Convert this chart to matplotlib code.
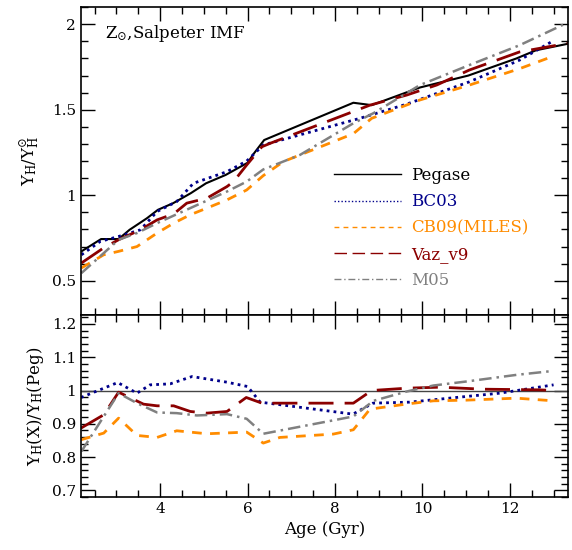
import matplotlib
matplotlib.use('Agg')
from matplotlib import pyplot as plt
from matplotlib.lines import Line2D
from matplotlib.ticker import MultipleLocator, FuncFormatter

# upper panel: Upsilon_H / Upsilon_H(sun)
peg_age = [2.2, 2.65, 3.05, 3.3, 3.7, 3.95, 4.3, 4.7, 5.05, 5.5, 6.0, 6.15, 6.38,
           8.42, 8.84, 9.94, 11.05, 12.15, 12.6, 13.35]
peg_val = [0.672, 0.744, 0.744, 0.798, 0.866, 0.915, 0.954, 1.012, 1.07, 1.119, 1.19,
           1.246, 1.323, 1.541, 1.527, 1.63, 1.70, 1.80, 1.848, 1.887]

bc_age = [2.2, 2.63, 3.05, 3.55, 3.93, 4.38, 4.76, 5.53, 5.98, 6.36, 8.57, 9.64,
          11.07, 12.22, 12.95]
bc_val = [0.652, 0.73, 0.759, 0.798, 0.905, 0.963, 1.07, 1.138, 1.2, 1.294, 1.45,
          1.533, 1.663, 1.79, 1.897]

cb_age = [2.2, 2.71, 3.05, 3.47, 3.93, 4.31, 4.69, 5.07, 5.53, 5.98, 6.36, 6.82,
          8.42, 8.84, 9.94, 11.07, 12.22, 12.99]
cb_val = [0.575, 0.652, 0.672, 0.70, 0.779, 0.837, 0.886, 0.925, 0.973, 1.031,
          1.115, 1.197, 1.36, 1.45, 1.557, 1.644, 1.74, 1.813]

vaz_age = [2.2, 2.7, 3.05, 3.55, 3.93, 4.31, 4.61, 5.07, 5.53, 5.68, 5.98, 6.33,
           6.52, 8.8, 9.64, 10.33, 11.07, 12.22, 13.35]
vaz_val = [0.604, 0.691, 0.74, 0.798, 0.856, 0.891, 0.954, 0.983, 1.051, 1.08, 1.177,
           1.284, 1.304, 1.527, 1.586, 1.645, 1.732, 1.838, 1.89]

m05_age = [2.2, 2.71, 3.05, 3.47, 3.93, 4.69, 5.53, 5.98, 6.36, 7.2, 8.42, 8.88,
           9.94, 11.07, 12.22, 13.35]
m05_val = [0.545, 0.662, 0.74, 0.779, 0.837, 0.925, 1.022, 1.08, 1.151, 1.236, 1.421,
           1.48, 1.644, 1.761, 1.877, 2.013]

# lower panel: ratio to Pegase
bc_r_age = [2.19, 3.03, 3.47, 3.77, 4.23, 4.73, 5.53, 6.0, 6.29, 8.41, 8.87, 9.7,
            11.0, 11.77, 13.0]
bc_r_val = [0.979, 1.024, 0.992, 1.017, 1.02, 1.042, 1.025, 1.012, 0.965, 0.929,
            0.962, 0.965, 0.982, 0.992, 1.017]

cb_r_age = [2.19, 2.71, 3.05, 3.47, 3.93, 4.38, 5.07, 5.98, 6.36, 6.74, 7.96, 8.42,
            8.8, 9.62, 10.25, 11.0, 12.15, 13.0]
cb_r_val = [0.852, 0.872, 0.917, 0.865, 0.859, 0.879, 0.87, 0.875, 0.842, 0.859,
            0.869, 0.882, 0.944, 0.959, 0.969, 0.971, 0.977, 0.969]

vaz_r_age = [2.19, 2.71, 3.05, 3.62, 3.93, 4.31, 4.69, 5.07, 5.53, 5.97, 6.33, 8.42,
             8.84, 9.64, 10.4, 11.39, 12.67, 13.0]
vaz_r_val = [0.887, 0.927, 0.995, 0.959, 0.954, 0.954, 0.937, 0.932, 0.937, 0.979,
             0.962, 0.962, 1.0, 1.007, 1.01, 1.004, 1.002, 1.0]

m05_r_age = [2.2, 3.05, 3.47, 3.93, 4.38, 4.84, 5.53, 5.98, 6.36, 8.42, 8.88, 9.64,
             10.25, 11.0, 12.15, 13.0]
m05_r_val = [0.817, 0.992, 0.962, 0.934, 0.932, 0.925, 0.929, 0.915, 0.87, 0.922,
             0.969, 0.997, 1.015, 1.027, 1.047, 1.059]

labels = ['Pegase', 'BC03', 'CB09(MILES)', 'Vaz_v9', 'M05']
colors = ['black', '#00008B', '#FF8C00', '#8B0000', '#808080']
styles = ['-', (0, (1, 1.5)), (0, (3.5, 3)), (0, (9, 4)), (0, (5, 2, 1, 2))]


def style_axis(ax):
    ax.tick_params(which='both', direction='in', top=True, right=True, width=1)
    ax.tick_params(which='major', length=10, labelsize=11)
    ax.tick_params(which='minor', length=5)
    for s in ax.spines.values():
        s.set_linewidth(1.2)


def main():
    plt.rcParams['font.family'] = ['DejaVu Serif']
    plt.rcParams['mathtext.fontset'] = 'dejavuserif'

    fig = plt.figure(figsize=(5.72, 5.5), dpi=100)
    ax1 = fig.add_axes([0.1416, 0.4273, 0.8514, 0.5597])
    ax2 = fig.add_axes([0.1416, 0.0964, 0.8514, 0.3309], sharex=ax1)

    top = [(peg_age, peg_val), (bc_age, bc_val), (cb_age, cb_val),
           (vaz_age, vaz_val), (m05_age, m05_val)]
    widths = [1.5, 2, 2, 2, 1.8]
    for (a, v), c, ls, w in zip(top, colors, styles, widths):
        ax1.plot(a, v, color=c, linestyle=ls, linewidth=w)

    ax1.set_xlim(2.19, 13.33)
    ax1.set_ylim(0.3, 2.1)
    ax1.yaxis.set_major_locator(MultipleLocator(0.5))
    ax1.yaxis.set_minor_locator(MultipleLocator(0.1))
    ax1.xaxis.set_major_locator(MultipleLocator(2))
    ax1.xaxis.set_minor_locator(MultipleLocator(0.5))
    ax1.yaxis.set_major_formatter(FuncFormatter(lambda v, p: '%g' % v))
    ax1.tick_params(labelbottom=False)
    style_axis(ax1)
    ax1.set_ylabel(r'$\Upsilon_\mathrm{H}/\Upsilon_\mathrm{H}^{\odot}$', fontsize=12,
                   labelpad=8)
    ax1.text(0.05, 0.9, r'Z$_{\odot}$,Salpeter IMF', transform=ax1.transAxes,
             fontsize=12)

    handles = [Line2D([], [], color=c, linestyle=ls, linewidth=1)
               for c, ls in zip(colors, styles)]
    leg = ax1.legend(handles, labels, loc='upper left', bbox_to_anchor=(0.52, 0.48),
                     frameon=False, fontsize=12, handlelength=4.0,
                     handletextpad=0.6, labelspacing=0.55, borderpad=0,
                     borderaxespad=0)
    for t, c in zip(leg.get_texts(), colors):
        t.set_color(c)

    ax2.axhline(1.0, color='#444444', linewidth=1)
    bottom = [(bc_r_age, bc_r_val), (cb_r_age, cb_r_val),
              (vaz_r_age, vaz_r_val), (m05_r_age, m05_r_val)]
    for (a, v), c, ls, w in zip(bottom, colors[1:], styles[1:], widths[1:]):
        ax2.plot(a, v, color=c, linestyle=ls, linewidth=w)

    ax2.set_ylim(0.68, 1.227)
    ax2.yaxis.set_major_locator(MultipleLocator(0.1))
    ax2.yaxis.set_minor_locator(MultipleLocator(0.02))
    ax2.yaxis.set_major_formatter(FuncFormatter(lambda v, p: '%g' % round(v, 2)))
    style_axis(ax2)
    ax2.set_ylabel(r'$\Upsilon_\mathrm{H}$(X)/$\Upsilon_\mathrm{H}$(Peg)', fontsize=12,
                   labelpad=4)
    ax2.set_xlabel('Age (Gyr)', fontsize=12)

    fig.savefig('out.png', dpi=100)


if __name__ == "__main__":
    main()
